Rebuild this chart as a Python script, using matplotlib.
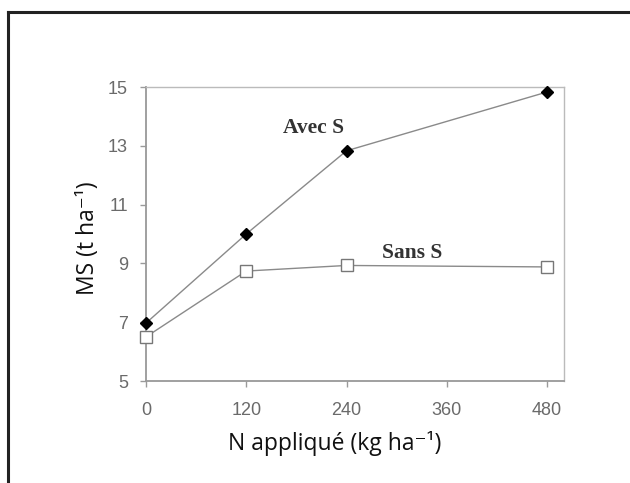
import matplotlib
matplotlib.use("Agg")
import matplotlib.pyplot as plt
from matplotlib.lines import Line2D

n_applied = [0, 120, 240, 480]
avec_s = [6.97, 10.0, 12.83, 14.83]
sans_s = [6.5, 8.74, 8.93, 8.88]
x_ticks = [0, 120, 240, 360, 480]
y_ticks = [5, 7, 9, 11, 13, 15]

W, H = 630, 483
fig = plt.figure(figsize=(W/100, H/100), dpi=100)

# outer frame (left and top lines)
fig.add_artist(Line2D([8/W, 8/W], [0, 1 - 12/H], color="#222222", lw=2.2, transform=fig.transFigure))
fig.add_artist(Line2D([8/W, 1], [1 - 12/H, 1 - 12/H], color="#222222", lw=2.2, transform=fig.transFigure))

x0, x1 = 146, 564
y_top, y_bot = 87, 381
ax = fig.add_axes([x0/W, 1 - y_bot/H, (x1 - x0)/W, (y_bot - y_top)/H])

ax.plot(n_applied, avec_s, color="#8a8a8a", lw=1.0, marker="D", ms=6,
        mfc="black", mec="black", zorder=3, clip_on=False)
ax.plot(n_applied, sans_s, color="#8a8a8a", lw=1.0, marker="s", ms=8,
        mfc="white", mec="#777777", mew=1.0, zorder=3, clip_on=False)

ax.set_xlim(0, 480 * (x1 - x0) / (547 - x0))
ax.set_ylim(5, 15)
ax.set_xticks(x_ticks)
ax.set_yticks(y_ticks)
ax.tick_params(colors="#9a9a9a", labelcolor="#6a6a6a", labelsize=13, length=4, width=1)
ax.tick_params(axis="x", pad=11)
ax.tick_params(axis="y", pad=9)
for lab in ax.get_xticklabels() + ax.get_yticklabels():
    lab.set_family(["Liberation Sans", "DejaVu Sans"])
for s in ["left", "bottom"]:
    ax.spines[s].set_color("#999999")
    ax.spines[s].set_linewidth(1.3)
for s in ["top", "right"]:
    ax.spines[s].set_color("#bbbbbb")
    ax.spines[s].set_linewidth(1.0)

ax.text(200, 13.62, "Avec S", fontsize=15.5, fontweight="bold", color="#333333",
        family=["Liberation Serif", "DejaVu Serif"], ha="center", va="center")
ax.text(318, 9.35, "Sans S", fontsize=15.5, fontweight="bold", color="#333333",
        family=["Liberation Serif", "DejaVu Serif"], ha="center", va="center")

fig.text(335/W, 1 - 443/H, "N appliqué (kg ha⁻¹)", fontsize=16.5, color="#111111",
         family=["Open Sans", "DejaVu Sans"], ha="center", va="center")
fig.text(88/W, 1 - 238/H, "MS (t ha⁻¹)", fontsize=16.5, color="#111111", rotation=90,
         family=["Open Sans", "DejaVu Sans"], ha="center", va="center")

fig.savefig("out.png", dpi=100)
